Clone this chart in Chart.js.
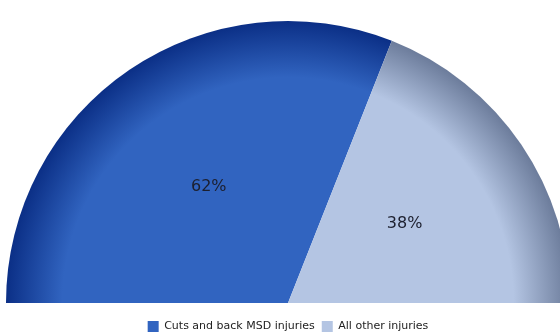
<!DOCTYPE html>
<html>
<head>
<meta charset="utf-8">
<script src="https://cdn.jsdelivr.net/npm/chart.js@4.4.1/dist/chart.umd.min.js"></script>
<style>
  html, body { margin: 0; padding: 0; background: #fff; overflow: hidden; }
  #wrap { position: relative; width: 576px; height: 344px; }
</style>
</head>
<body>
<div id="wrap"><canvas id="myChart" width="576" height="344"></canvas></div>
<script>
// categorias y porcentajes
const labels = ['Cuts and back MSD injuries', 'All other injuries'];
const values = [62, 38];
// color plano (centro) y color oscuro (borde exterior)
const baseColors = ['#3164c0', '#b4c5e3'];
const edgeColors = ['#0b2f86', '#6c7c9b'];

// sombreado radial en cada porción
const shadePlugin = {
    id: 'shade',
    beforeDatasetsDraw(chart) {
        const ctx = chart.ctx;
        chart.getDatasetMeta(0).data.forEach((arc, i) => {
            const g = ctx.createRadialGradient(arc.x, arc.y, 0, arc.x, arc.y, arc.outerRadius);
            g.addColorStop(0, baseColors[i]);
            g.addColorStop(0.8, baseColors[i]);
            g.addColorStop(1, edgeColors[i]);
            arc.options.backgroundColor = g;
        });
    }
};

// texto del porcentaje dentro de cada porción
const valueLabels = {
    id: 'valueLabels',
    afterDatasetsDraw(chart) {
        const ctx = chart.ctx;
        ctx.save();
        ctx.font = '16px "DejaVu Sans", sans-serif';
        ctx.fillStyle = '#1c1f2e';
        ctx.textAlign = 'center';
        ctx.textBaseline = 'middle';
        chart.getDatasetMeta(0).data.forEach((arc, i) => {
            const p = arc.tooltipPosition();
            ctx.fillText(values[i] + '%', p.x, p.y);
        });
        ctx.restore();
    }
};

var ctx = document.getElementById('myChart').getContext('2d');
var chart = new Chart(ctx, {
    type: 'pie',
    data: {
        labels: labels,
        datasets: [{
            data: values,
            backgroundColor: baseColors,
            borderWidth: 0
        }]
    },
    options: {
        responsive: false,
        animation: false,
        circumference: 180,
        rotation: -90,
        layout: { padding: { top: 21, left: 6, right: 6, bottom: 2 } },
        plugins: {
            legend: {
                position: 'bottom',
                // titulo vacio: solo deja espacio sobre la leyenda
                title: {
                    display: true,
                    text: '',
                    font: { size: 1, lineHeight: 1 },
                    padding: { top: 0, bottom: 10 }
                },
                labels: {
                    boxWidth: 11,
                    boxHeight: 11,
                    padding: 7,
                    color: '#222',
                    font: { family: '"DejaVu Sans", sans-serif', size: 11 }
                }
            },
            tooltip: { enabled: false }
        }
    },
    plugins: [shadePlugin, valueLabels]
});
</script>
</body>
</html>
